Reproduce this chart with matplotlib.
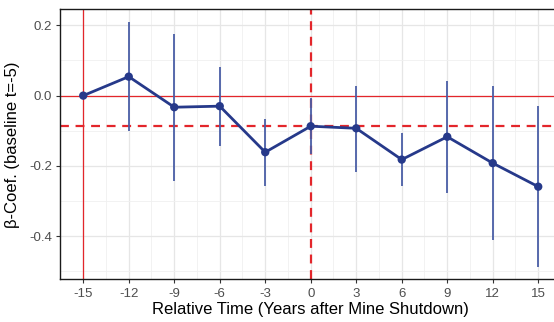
import matplotlib
matplotlib.use("Agg")
import matplotlib.pyplot as plt
from matplotlib.ticker import MultipleLocator

plt.rcParams['font.family'] = ['Liberation Sans', 'DejaVu Sans']
plt.rcParams['axes.unicode_minus'] = False

# Event-study coefficients by relative year
rel_time = [-15, -12, -9, -6, -3, 0, 3, 6, 9, 12, 15]
coef = [0.0, 0.054, -0.033, -0.030, -0.161, -0.087, -0.093, -0.182, -0.117, -0.192, -0.259]
ci_low = [0.0, -0.102, -0.242, -0.142, -0.256, -0.165, -0.216, -0.256, -0.278, -0.412, -0.488]
ci_high = [0.0, 0.210, 0.175, 0.081, -0.066, -0.008, 0.027, -0.107, 0.042, 0.027, -0.030]
x_ticks = [-15, -12, -9, -6, -3, 0, 3, 6, 9, 12, 15]
y_ticks = [-0.4, -0.2, 0.0, 0.2]
y_tick_labels = ["-0.4", "-0.2", "0.0", "0.2"]
post_mean = -0.087

navy = "#26398a"
bar_col = "#4a5ea6"
red = "#e3262b"

fig = plt.figure(figsize=(5.54, 3.22), dpi=100)
ax = fig.add_axes([0.1092, 0.1326, 0.9034, 0.8385])

ax.set_xlim(-16.5, 16.5)
ax.set_ylim(-0.5225, 0.2455)

# grid
ax.xaxis.set_minor_locator(MultipleLocator(1.5))
ax.yaxis.set_minor_locator(MultipleLocator(0.1))
ax.set_xticks(x_ticks)
ax.set_xticklabels([str(t) for t in x_ticks])
ax.set_yticks(y_ticks)
ax.set_yticklabels(y_tick_labels)
ax.grid(which='major', color='#e6e6e6', lw=0.9, zorder=0)
ax.grid(which='minor', color='#f0f0f0', lw=0.6, zorder=0)
ax.set_axisbelow(True)

# reference lines
ax.axhline(0, color=red, lw=0.9, zorder=1)
ax.axvline(-15, color=red, lw=0.9, zorder=1)
ax.axvline(0, color=red, lw=1.6, ls=(0, (4, 3)), zorder=1)
ax.axhline(post_mean, color=red, lw=1.6, ls=(0, (4, 3)), zorder=1)

# confidence intervals
ax.vlines(rel_time, ci_low, ci_high, color=bar_col, lw=1.3, zorder=2)

# point estimates
ax.plot(rel_time, coef, color=navy, lw=2.0, zorder=3)
ax.scatter(rel_time, coef, s=36, color=navy, zorder=4, edgecolors='none')

for s in ax.spines.values():
    s.set_color('#1a1a1a')
    s.set_linewidth(1.0)

ax.tick_params(axis='both', which='major', length=3, width=0.8, color='#333333',
               labelsize=9.5, labelcolor='#4d4d4d', pad=3)
ax.tick_params(axis='both', which='minor', length=0)

ax.set_xlabel("Relative Time (Years after Mine Shutdown)", fontsize=12, color='black', labelpad=2)
ax.set_ylabel("β-Coef. (baseline t=-5)", fontsize=12, color='black', labelpad=7)

fig.savefig("out.png", dpi=100)
